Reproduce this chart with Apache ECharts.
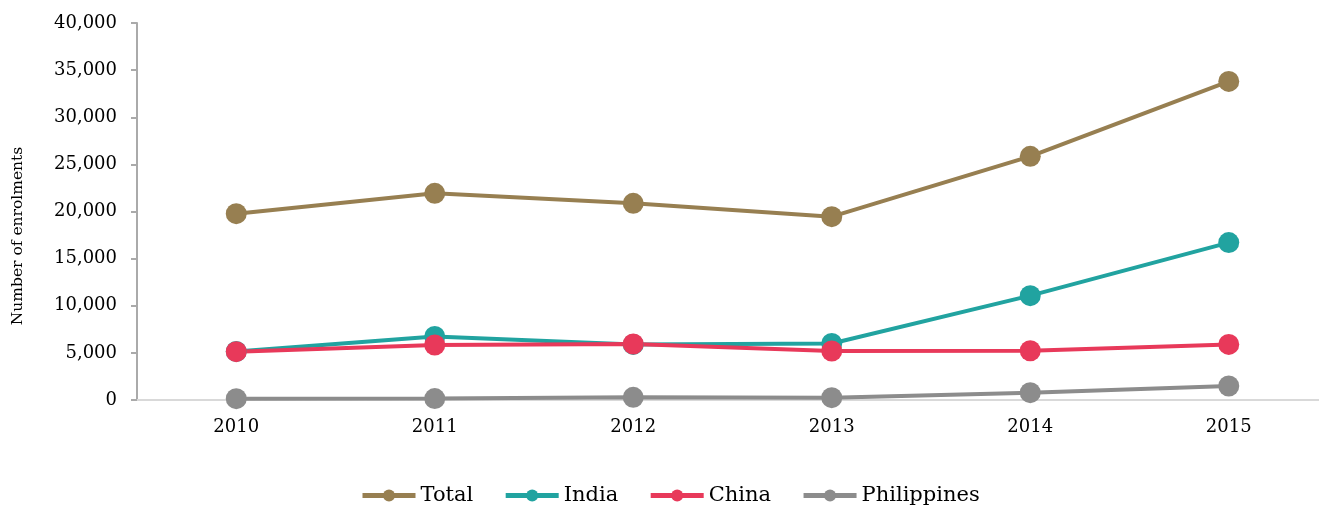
<!DOCTYPE html>
<html><head><meta charset="utf-8">
<script src="https://cdn.jsdelivr.net/npm/echarts@6/dist/echarts.min.js"></script>
<style>html,body{margin:0;padding:0;background:#fff}#c{width:1319px;height:506px}</style>
</head><body><div id="c"></div>
<script>
const years = ['2010','2011','2012','2013','2014','2015'];
const total = [19770, 21930, 20870, 19450, 25850, 33800];
const india = [5150, 6750, 5900, 6000, 11070, 16700];
const china = [5130, 5840, 5940, 5200, 5230, 5900];
const philippines = [140, 150, 280, 250, 780, 1490];
const names = ['Total','India','China','Philippines'];
const yTitle = 'Number of enrolments';
const colors = ['#977f51','#21a3a0','#e8395a','#8c8c8c'];
const FONT = 'DejaVu Serif';
const chart = echarts.init(document.getElementById('c'));
const mk = (name, data, color) => ({
  name, type:'line', data, color,
  symbol:'circle', symbolSize:21,
  lineStyle:{width:4, color},
  itemStyle:{color},
  emphasis:{disabled:true}
});
chart.setOption({
  animation:false,
  textStyle:{fontFamily:FONT, color:'#000'},
  grid:{left:137, width:1191, top:23, height:377, outerBoundsMode:'none', containLabel:false},
  graphic:[{
    type:'text', x:18, y:236, rotation:Math.PI/2,
    style:{text:yTitle, font:'15.5px "DejaVu Serif"', fill:'#000', align:'center', verticalAlign:'middle'}
  }],
  legend:{
    top:485, left:360, padding:0,
    itemWidth:53, itemHeight:15, itemGap:30,
    lineStyle:{width:5},
    textStyle:{fontFamily:FONT, fontSize:21, color:'#000'},
    data:names
  },
  xAxis:{
    type:'category', data:years, boundaryGap:true,
    axisLine:{lineStyle:{color:'#d9d9d9', width:2}},
    axisTick:{show:false},
    axisLabel:{fontFamily:FONT, fontSize:18, color:'#000', margin:18}
  },
  yAxis:{
    type:'value', min:0, max:40000, interval:5000,
    axisLine:{show:true, lineStyle:{color:'#aaaaaa', width:2}},
    axisTick:{show:true, length:6, lineStyle:{color:'#aaaaaa', width:2}},
    splitLine:{show:false},
    axisLabel:{fontFamily:FONT, fontSize:18, color:'#000', margin:20,
      formatter:v=>v.toLocaleString('en-US')}
  },
  series:[mk('Total',total,colors[0]), mk('India',india,colors[1]), mk('China',china,colors[2]), mk('Philippines',philippines,colors[3])]
});
</script></body></html>
